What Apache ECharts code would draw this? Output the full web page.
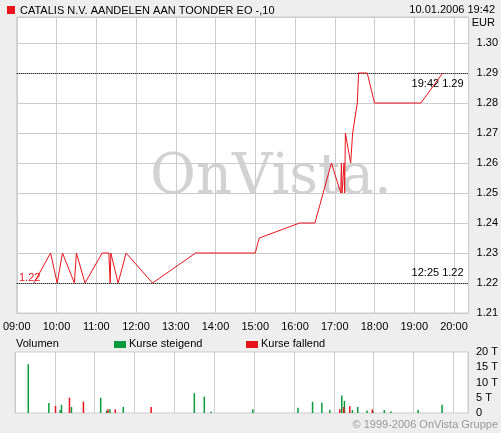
<!DOCTYPE html><html><head><meta charset="utf-8"><script src="https://cdn.jsdelivr.net/npm/echarts@6/dist/echarts.min.js"></script>
<style>body{margin:0;background:#eeeeee}#c{width:501px;height:433px}</style></head><body><div id="c"></div><script>
const xTicks=['09:00','10:00','11:00','12:00','13:00','14:00','15:00','16:00','17:00','18:00','19:00','20:00'];
// minutes after 09:00, price
const priceTimes=[26,51,61,69,72,87,90,103,129,139,141,142,143,153,165,205,270,360,366,427,450,475,489,490,491,494,495,496,504,507,514,516,517,529,540,610,643];
const priceVals=[1.22,1.23,1.22,1.23,1.23,1.22,1.23,1.22,1.23,1.23,1.22,1.23,1.23,1.22,1.23,1.22,1.23,1.23,1.235,1.24,1.24,1.26,1.25,1.26,1.25,1.26,1.25,1.27,1.26,1.27,1.28,1.29,1.29,1.29,1.28,1.28,1.29];
const upTimes=[20,51,68,70,85,129,138,143,163,270,285,295,358,426,448,462,474,492,496,508,516,530,539,556,566,607,643];
const upVals=[16,3.3,1,2.7,2,5,0.8,1.2,2,6.5,5.4,0.4,1.2,1.7,3.7,3.4,1,5.7,4,1,2,0.8,0.5,1,0.5,1,2.7];
const downTimes=[61,82,103,140,151,205,489,495,504,538];
const downVals=[2.3,5,3.7,1.2,1.2,2,1.2,2,2.2,1.2];
const ch=echarts.init(document.getElementById('c'));
const fmt=v=>xTicks[Math.round(v/60)]||'';
const ax={type:'value',min:0,max:682,interval:60};
ch.setOption({animation:false,backgroundColor:'#eeeeee',
graphic:[
{type:'rect',left:7,top:6,shape:{width:8,height:8},style:{fill:'#e8141c'}},
{type:'text',left:20,top:5,style:{text:'CATALIS N.V. AANDELEN AAN TOONDER EO -,10',font:'11px Arial',fill:'#000'}},
{type:'text',right:6,top:4,style:{text:'10.01.2006 19:42',font:'11px Arial',fill:'#000',align:'right'}},
{type:'text',right:6,top:17,style:{text:'EUR',font:'11px Arial',fill:'#000',align:'right'}},
{type:'text',left:150,top:150,z:0,style:{text:'OnVista.',font:'56px "DejaVu Serif", serif',fill:'rgba(180,180,180,0.6)'}},
{type:'text',left:19,top:272,z:10,style:{text:'1.22',font:'11px Arial',fill:'#e8141c'}},
{type:'text',left:16,top:338,style:{text:'Volumen',font:'11px Arial',fill:'#000'}},
{type:'rect',left:114,top:341,shape:{width:12,height:7},style:{fill:'#0a9a3c'}},
{type:'text',left:129,top:338,style:{text:'Kurse steigend',font:'11px Arial',fill:'#000'}},
{type:'rect',left:246,top:341,shape:{width:12,height:7},style:{fill:'#e8141c'}},
{type:'text',left:261,top:338,style:{text:'Kurse fallend',font:'11px Arial',fill:'#000'}},
{type:'text',right:3,top:419,style:{text:'© 1999-2006 OnVista Gruppe',font:'11px Arial',fill:'#999',align:'right'}}
],
grid:[{left:15,top:17,width:455,height:296,backgroundColor:'#fff',show:true,borderColor:'#ccc'},
{left:15,top:352,width:455,height:61,backgroundColor:'#fff',show:true,borderColor:'#ccc'}],
xAxis:[Object.assign({gridIndex:0,axisLine:{show:false},axisTick:{show:false},splitLine:{lineStyle:{color:'#ccc'}},axisLabel:{formatter:fmt,color:'#000',fontSize:11,fontFamily:'Arial',showMaxLabel:false}},ax),
Object.assign({gridIndex:1,axisLine:{show:false},axisTick:{show:false},splitLine:{lineStyle:{color:'#ccc'}},axisLabel:{show:false}},ax)],
yAxis:[{gridIndex:0,position:'right',min:1.21,max:1.30867,interval:0.01,axisLine:{show:false},axisTick:{show:false},splitLine:{lineStyle:{color:'#ccc'}},
axisLabel:{color:'#000',fontSize:11,fontFamily:'Arial',formatter:v=>v>1.3001?'':v.toFixed(2),showMaxLabel:false}},
{gridIndex:1,position:'right',min:0,max:20,interval:5,axisLine:{show:false},axisTick:{show:false},splitLine:{show:false},
axisLabel:{color:'#000',fontSize:11,fontFamily:'Arial',formatter:v=>v===0?'0':v+' T'}}],
series:[
{type:'line',xAxisIndex:0,yAxisIndex:0,data:priceTimes.map((t,i)=>[t,priceVals[i]]),symbol:'none',lineStyle:{color:'#e8141c',width:1},z:5,
markLine:{symbol:'none',silent:true,lineStyle:{color:'#000',type:'dotted',width:1},
data:[{yAxis:1.29,label:{position:'insideEndBottom',formatter:'19:42 1.29',color:'#000',fontSize:11,fontFamily:'Arial'}},
{yAxis:1.22,label:{position:'insideEndTop',formatter:'12:25 1.22',color:'#000',fontSize:11,fontFamily:'Arial'}}]}},
{type:'bar',xAxisIndex:1,yAxisIndex:1,data:upTimes.map((t,i)=>[t,upVals[i]]),barWidth:1.5,itemStyle:{color:'#0a9a3c'},barGap:'-100%'},
{type:'bar',xAxisIndex:1,yAxisIndex:1,data:downTimes.map((t,i)=>[t,downVals[i]]),barWidth:1.5,itemStyle:{color:'#e8141c'},barGap:'-100%'}
]});
</script></body></html>
